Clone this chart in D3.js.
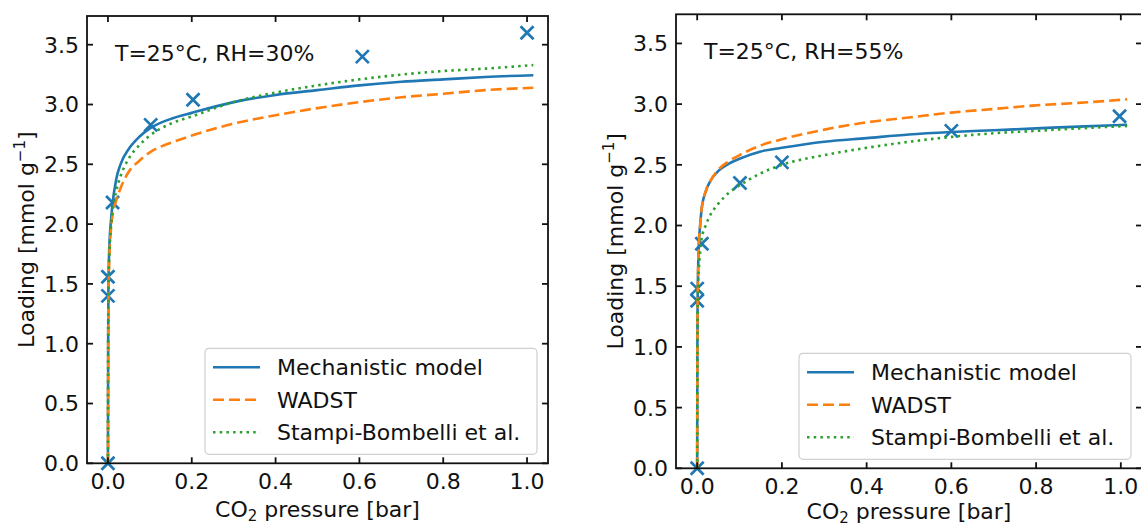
<!DOCTYPE html>
<html lang="en">
<head>
<meta charset="UTF-8">
<title>CO2 isotherms</title>
<script src="https://d3js.org/d3.v7.min.js"></script>
<style>
  body { margin: 0; background: #fff; }
  svg { display: block; font-family: 'DejaVu Sans', sans-serif; }
</style>
</head>
<body>
<div id="chart"></div>
<script>
// pressure grid [bar] shared by the three model curves
const pressureGrid = [0, 0.0005, 0.001, 0.002, 0.004, 0.007, 0.01, 0.02, 0.03, 0.05, 0.075,
                      0.1, 0.15, 0.2, 0.3, 0.4, 0.5, 0.6, 0.7, 0.8, 0.9, 1.015];

// RH = 30 %
const mechanistic30 = [0, 1.0, 1.4, 1.65, 1.87, 2.02, 2.14, 2.38, 2.5, 2.63, 2.73, 2.8, 2.88, 2.93, 3.02, 3.08, 3.12, 3.16, 3.19, 3.21, 3.23, 3.245];
const wadst30       = [0, 0.95, 1.3, 1.55, 1.78, 1.95, 2.05, 2.2, 2.3, 2.44, 2.53, 2.6, 2.68, 2.74, 2.84, 2.91, 2.97, 3.02, 3.06, 3.09, 3.12, 3.14];
const stampi30      = [0, 1.0, 1.4, 1.62, 1.8, 1.97, 2.08, 2.28, 2.4, 2.55, 2.66, 2.74, 2.84, 2.9, 3.02, 3.1, 3.16, 3.21, 3.25, 3.28, 3.3, 3.33];
const expPressure30 = [0, 0.0, 0.0, 0.011, 0.102, 0.203, 0.607, 1.0];
const expLoading30  = [0, 1.40, 1.56, 2.18, 2.83, 3.04, 3.40, 3.60];

// RH = 55 %
const mechanistic55 = [0, 1.0, 1.35, 1.6, 1.85, 2.0, 2.12, 2.28, 2.36, 2.45, 2.51, 2.55, 2.61, 2.64, 2.69, 2.72, 2.75, 2.77, 2.785, 2.8, 2.815, 2.83];
const wadst55       = [0, 1.0, 1.35, 1.6, 1.85, 2.0, 2.12, 2.28, 2.36, 2.46, 2.53, 2.58, 2.66, 2.71, 2.79, 2.85, 2.89, 2.93, 2.96, 2.99, 3.01, 3.04];
const stampi55      = [0, 0.9, 1.25, 1.5, 1.65, 1.78, 1.88, 2.0, 2.08, 2.18, 2.27, 2.33, 2.43, 2.5, 2.58, 2.64, 2.69, 2.73, 2.76, 2.78, 2.8, 2.82];
const expPressure55 = [0, 0.0, 0.0, 0.011, 0.101, 0.2, 0.6, 0.997];
const expLoading55  = [0, 1.38, 1.48, 1.85, 2.35, 2.52, 2.78, 2.90];

const xTicks = [0, 0.2, 0.4, 0.6, 0.8, 1.0];
const yTicks = [0, 0.5, 1.0, 1.5, 2.0, 2.5, 3.0, 3.5];
const seriesNames = ['Mechanistic model', 'WADST', 'Stampi-Bombelli et al.'];

const colors = ['#1f77b4', '#ff7f0e', '#2ca02c'];
const dashes = [null, '11,5', '2.5,4.2'];

const width = 1141, height = 528;
const svg = d3.select('#chart').append('svg')
    .attr('width', width)
    .attr('height', height);

const panels = [
  { left: 87, right: 548, top: 16, bottom: 463.3, xlabGap: 54, label: 'T=25°C, RH=30%',
    curves: [mechanistic30, wadst30, stampi30], expX: expPressure30, expY: expLoading30 },
  { left: 676, right: 1142, top: 14.3, bottom: 468.3, xlabGap: 51, label: 'T=25°C, RH=55%',
    curves: [mechanistic55, wadst55, stampi55], expX: expPressure55, expY: expLoading55 }
];

panels.forEach(p => drawPanel(p));

function drawPanel(p) {
  const x = d3.scaleLinear().domain([-0.05, 1.05]).range([p.left, p.right]);
  const y = d3.scaleLinear().domain([0, 3.74]).range([p.bottom, p.top]);
  const g = svg.append('g');
  const tickLen = 6;

  // experimental points (x markers)
  const pts = p.expX.map((v, i) => [v, p.expY[i]]);
  const s = 6.5;
  g.selectAll('path.mk').data(pts).join('path')
      .attr('class', 'mk')
      .attr('d', d => {
        const cx = x(d[0]), cy = y(d[1]);
        return `M${cx - s},${cy - s}L${cx + s},${cy + s}M${cx - s},${cy + s}L${cx + s},${cy - s}`;
      })
      .attr('stroke', colors[0])
      .attr('stroke-width', 2.7)
      .attr('fill', 'none');

  // model curves
  const line = d3.line()
      .x((d, i) => x(pressureGrid[i]))
      .y(d => y(d))
      .curve(d3.curveMonotoneX);

  p.curves.forEach((c, k) => {
    g.append('path')
        .datum(c)
        .attr('d', line)
        .attr('fill', 'none')
        .attr('stroke', colors[k])
        .attr('stroke-width', 2.6)
        .attr('stroke-dasharray', dashes[k]);
  });

  // frame
  g.append('rect')
      .attr('x', p.left).attr('y', p.top)
      .attr('width', p.right - p.left).attr('height', p.bottom - p.top)
      .attr('fill', 'none').attr('stroke', '#111').attr('stroke-width', 1.8);

  // ticks on all four sides, pointing inward
  xTicks.forEach(t => {
    g.append('line').attr('x1', x(t)).attr('x2', x(t))
        .attr('y1', p.bottom).attr('y2', p.bottom - tickLen)
        .attr('stroke', '#111').attr('stroke-width', 1.8);
    g.append('line').attr('x1', x(t)).attr('x2', x(t))
        .attr('y1', p.top).attr('y2', p.top + tickLen)
        .attr('stroke', '#111').attr('stroke-width', 1.8);
    g.append('text').attr('x', x(t)).attr('y', p.bottom + 26)
        .attr('text-anchor', 'middle').attr('font-size', 22).attr('fill', '#111')
        .text(d3.format('.1f')(t));
  });
  yTicks.forEach(t => {
    g.append('line').attr('x1', p.left).attr('x2', p.left + tickLen)
        .attr('y1', y(t)).attr('y2', y(t))
        .attr('stroke', '#111').attr('stroke-width', 1.8);
    g.append('line').attr('x1', p.right).attr('x2', p.right - tickLen)
        .attr('y1', y(t)).attr('y2', y(t))
        .attr('stroke', '#111').attr('stroke-width', 1.8);
    g.append('text').attr('x', p.left - 8).attr('y', y(t))
        .attr('dy', '0.36em')
        .attr('text-anchor', 'end').attr('font-size', 22).attr('fill', '#111')
        .text(d3.format('.1f')(t));
  });

  // axis titles
  const xl = g.append('text')
      .attr('x', (p.left + p.right) / 2).attr('y', p.bottom + p.xlabGap)
      .attr('text-anchor', 'middle').attr('font-size', 22).attr('fill', '#111');
  xl.append('tspan').text('CO');
  xl.append('tspan').attr('font-size', 15).attr('dy', 4).text('2');
  xl.append('tspan').attr('dy', -4).text(' pressure [bar]');

  const yl = g.append('text')
      .attr('transform', `translate(${p.left - 53},${(p.top + p.bottom) / 2}) rotate(-90)`)
      .attr('text-anchor', 'middle').attr('font-size', 22).attr('fill', '#111');
  yl.append('tspan').text('Loading [mmol g');
  yl.append('tspan').attr('font-size', 15).attr('dy', -9).text('−1');
  yl.append('tspan').attr('dy', 9).text(']');

  // condition label
  g.append('text')
      .attr('x', p.left + 28).attr('y', p.top + 45)
      .attr('font-size', 22).attr('fill', '#111')
      .text(p.label);

  // legend
  const lw = 332, lh = 106;
  const lx = p.right - 11 - lw, ly = p.bottom - 9 - lh;
  const leg = g.append('g').attr('transform', `translate(${lx},${ly})`);
  leg.append('rect')
      .attr('width', lw).attr('height', lh).attr('rx', 4)
      .attr('fill', '#fff').attr('fill-opacity', 0.8)
      .attr('stroke', '#d0d0d0').attr('stroke-width', 1.2);
  seriesNames.forEach((name, k) => {
    const ry = 19 + k * 32.5;
    leg.append('line')
        .attr('x1', 8).attr('x2', 55).attr('y1', ry).attr('y2', ry)
        .attr('stroke', colors[k]).attr('stroke-width', 2.6)
        .attr('stroke-dasharray', dashes[k]);
    leg.append('text')
        .attr('x', 72).attr('y', ry).attr('dy', '0.36em')
        .attr('font-size', 22).attr('fill', '#111')
        .text(name);
  });
}
</script>
</body>
</html>
